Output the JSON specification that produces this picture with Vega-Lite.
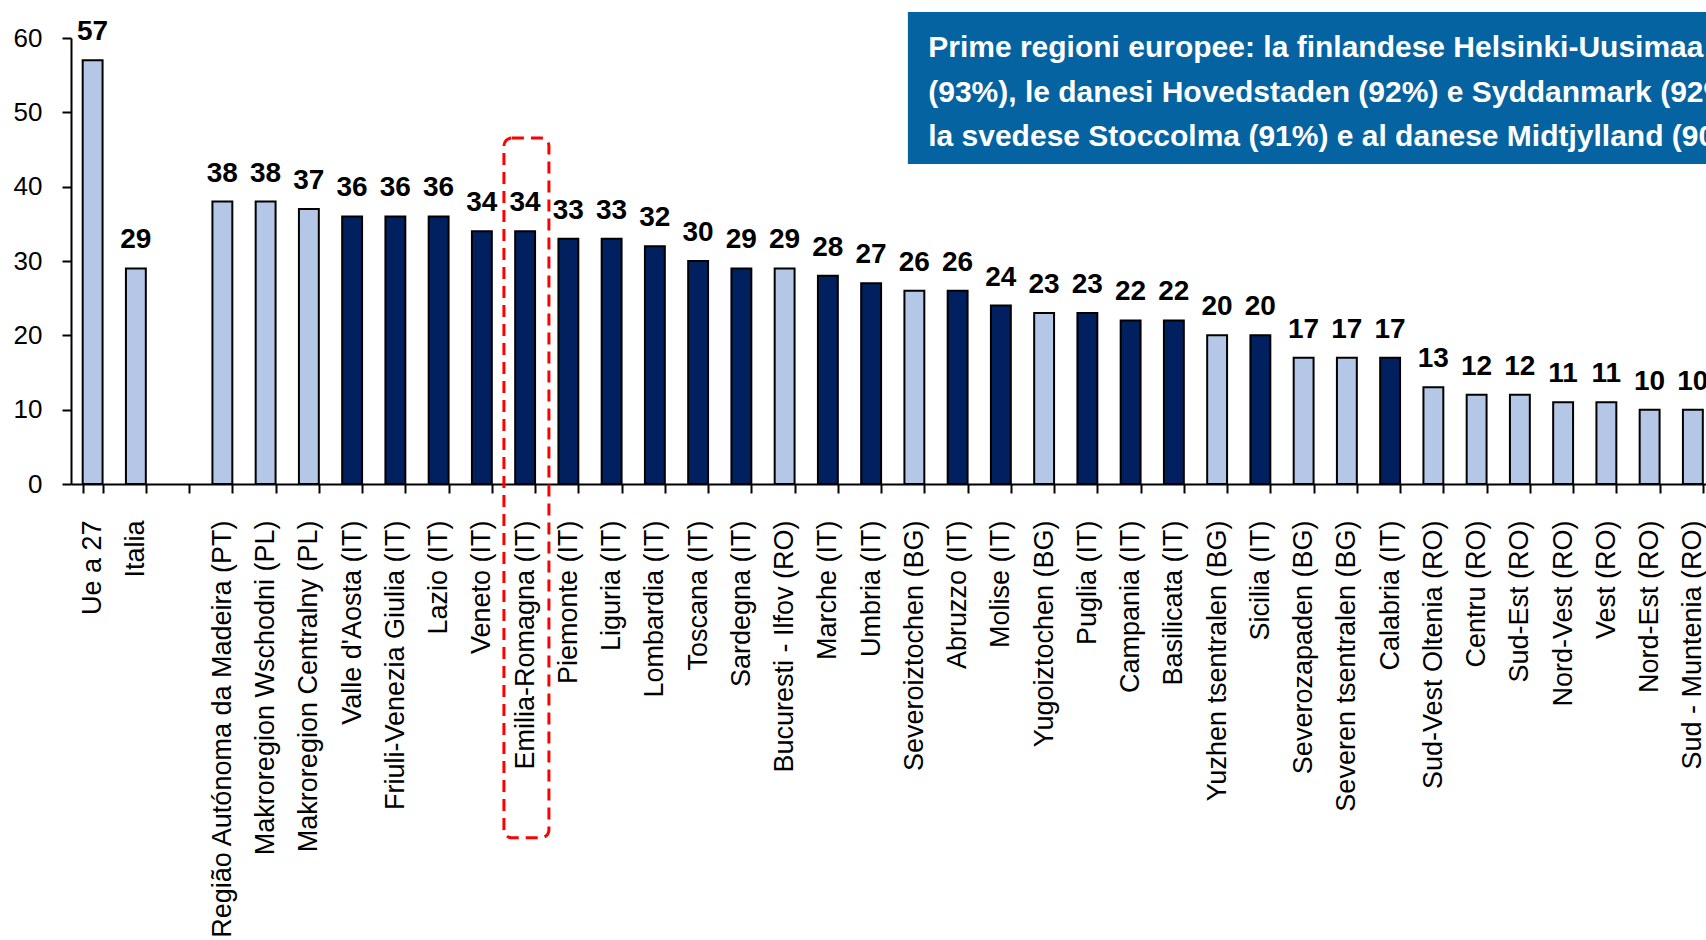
{
  "$schema": "https://vega.github.io/schema/vega-lite/v6.json",
  "width": 1635,
  "height": 446,
  "autosize": "none",
  "padding": {"left": 71, "top": 38, "right": 0, "bottom": 456},
  "background": "white",
  "config": {"view": {"stroke": null}},
  "resolve": {"scale": {"x": "independent"}},
  "layer": [
    {
      "data": {"name": "bars", "values": [
        {"cat": "Ue a 27", "v": 57, "g": "L"},
        {"cat": "Italia", "v": 29, "g": "L"},
        {"cat": "Região Autónoma da Madeira (PT)", "v": 38, "g": "L"},
        {"cat": "Makroregion Wschodni (PL)", "v": 38, "g": "L"},
        {"cat": "Makroregion Centralny (PL)", "v": 37, "g": "L"},
        {"cat": "Valle d'Aosta (IT)", "v": 36, "g": "D"},
        {"cat": "Friuli-Venezia Giulia (IT)", "v": 36, "g": "D"},
        {"cat": "Lazio (IT)", "v": 36, "g": "D"},
        {"cat": "Veneto (IT)", "v": 34, "g": "D"},
        {"cat": "Emilia-Romagna (IT)", "v": 34, "g": "D"},
        {"cat": "Piemonte (IT)", "v": 33, "g": "D"},
        {"cat": "Liguria (IT)", "v": 33, "g": "D"},
        {"cat": "Lombardia (IT)", "v": 32, "g": "D"},
        {"cat": "Toscana (IT)", "v": 30, "g": "D"},
        {"cat": "Sardegna (IT)", "v": 29, "g": "D"},
        {"cat": "Bucuresti - Ilfov (RO)", "v": 29, "g": "L"},
        {"cat": "Marche (IT)", "v": 28, "g": "D"},
        {"cat": "Umbria (IT)", "v": 27, "g": "D"},
        {"cat": "Severoiztochen (BG)", "v": 26, "g": "L"},
        {"cat": "Abruzzo (IT)", "v": 26, "g": "D"},
        {"cat": "Molise (IT)", "v": 24, "g": "D"},
        {"cat": "Yugoiztochen (BG)", "v": 23, "g": "L"},
        {"cat": "Puglia (IT)", "v": 23, "g": "D"},
        {"cat": "Campania (IT)", "v": 22, "g": "D"},
        {"cat": "Basilicata (IT)", "v": 22, "g": "D"},
        {"cat": "Yuzhen tsentralen (BG)", "v": 20, "g": "L"},
        {"cat": "Sicilia (IT)", "v": 20, "g": "D"},
        {"cat": "Severozapaden (BG)", "v": 17, "g": "L"},
        {"cat": "Severen tsentralen (BG)", "v": 17, "g": "L"},
        {"cat": "Calabria (IT)", "v": 17, "g": "D"},
        {"cat": "Sud-Vest Oltenia (RO)", "v": 13, "g": "L"},
        {"cat": "Centru (RO)", "v": 12, "g": "L"},
        {"cat": "Sud-Est (RO)", "v": 12, "g": "L"},
        {"cat": "Nord-Vest (RO)", "v": 11, "g": "L"},
        {"cat": "Vest (RO)", "v": 11, "g": "L"},
        {"cat": "Nord-Est (RO)", "v": 10, "g": "L"},
        {"cat": "Sud - Muntenia (RO)", "v": 10, "g": "L"}
      ]},
      "layer": [
        {
          "mark": {"type": "bar", "stroke": "black", "strokeWidth": 2},
          "encoding": {
            "x": {"field": "cat", "type": "nominal", "sort": null,
              "scale": {"domain": ["Ue a 27", "Italia", " ", "Região Autónoma da Madeira (PT)", "Makroregion Wschodni (PL)", "Makroregion Centralny (PL)", "Valle d'Aosta (IT)", "Friuli-Venezia Giulia (IT)", "Lazio (IT)", "Veneto (IT)", "Emilia-Romagna (IT)", "Piemonte (IT)", "Liguria (IT)", "Lombardia (IT)", "Toscana (IT)", "Sardegna (IT)", "Bucuresti - Ilfov (RO)", "Marche (IT)", "Umbria (IT)", "Severoiztochen (BG)", "Abruzzo (IT)", "Molise (IT)", "Yugoiztochen (BG)", "Puglia (IT)", "Campania (IT)", "Basilicata (IT)", "Yuzhen tsentralen (BG)", "Sicilia (IT)", "Severozapaden (BG)", "Severen tsentralen (BG)", "Calabria (IT)", "Sud-Vest Oltenia (RO)", "Centru (RO)", "Sud-Est (RO)", "Nord-Vest (RO)", "Vest (RO)", "Nord-Est (RO)", "Sud - Muntenia (RO)"],
                "range": [0, 1643.5], "paddingInner": 0.54, "paddingOuter": 0.27},
              "axis": {"title": null, "labelAngle": -90, "labelAlign": "right", "labelBaseline": "middle",
                "labelFont": "Liberation Sans, Arial, sans-serif",
                "labelFontSize": 27, "labelColor": "black", "labelPadding": 27, "labelLimit": 1000,
                "tickBand": "extent", "tickSize": 9, "tickWidth": 2, "tickColor": "black",
                "domainColor": "black", "domainWidth": 2, "labelOverlap": false, "grid": false}},
            "y": {"field": "v", "type": "quantitative",
              "scale": {"domain": [0, 60], "nice": false},
              "axis": {"title": null, "values": [0, 10, 20, 30, 40, 50, 60],
                "labelFont": "Liberation Sans, Arial, sans-serif",
                "labelFontSize": 26, "labelColor": "black", "labelPadding": 20,
                "tickSize": 9, "tickWidth": 2, "tickColor": "black",
                "domainColor": "black", "domainWidth": 2, "grid": false}},
            "color": {"field": "g", "type": "nominal",
              "scale": {"domain": ["L", "D"], "range": ["#b4c7e7", "#002060"]}, "legend": null}
          }
        },
        {
          "mark": {"type": "text", "baseline": "alphabetic", "align": "center", "dy": -20,
            "font": "Liberation Sans, Arial, sans-serif",
            "fontWeight": "bold", "fontSize": 28, "color": "black"},
          "encoding": {
            "x": {"field": "cat", "type": "nominal", "sort": null},
            "y": {"field": "v", "type": "quantitative", "title": null},
            "text": {"field": "v", "type": "quantitative"}
          }
        }
      ]
    },
    {
      "data": {"name": "annot", "values": [
        {"x": 19.35, "x2": 45, "y": 63.5, "y2": 43.05}
      ]},
      "mark": {"type": "rect", "color": "#0563a1"},
      "encoding": {
        "x": {"field": "x", "type": "quantitative", "scale": {"domain": [0, 38], "range": [0, 1643.5]}, "axis": null},
        "x2": {"field": "x2"},
        "y": {"field": "y", "type": "quantitative", "title": null},
        "y2": {"field": "y2"}
      }
    },
    {
      "data": {"name": "lines", "values": [
        {"x": 19.82, "y": 57.5, "t": "Prime regioni europee: la finlandese Helsinki-Uusimaa"},
        {"x": 19.82, "y": 51.4, "t": "(93%), le danesi Hovedstaden (92%) e Syddanmark (92%),"},
        {"x": 19.82, "y": 45.5, "t": "la svedese Stoccolma (91%) e al danese Midtjylland (90%)"}
      ]},
      "mark": {"type": "text", "align": "left", "baseline": "alphabetic",
        "font": "Liberation Sans, Arial, sans-serif",
        "fontWeight": "bold", "fontSize": 30, "color": "white"},
      "encoding": {
        "x": {"field": "x", "type": "quantitative", "scale": {"domain": [0, 38], "range": [0, 1643.5]}, "axis": null},
        "y": {"field": "y", "type": "quantitative", "title": null},
        "text": {"field": "t"}
      }
    },
    {
      "data": {"name": "box", "values": [
        {"x": 10.01, "x2": 11.05, "y": 46.55, "y2": -47.6}
      ]},
      "mark": {"type": "rect", "fill": null, "fillOpacity": 0, "stroke": "#ff0000", "strokeWidth": 3, "strokeDash": [12, 7], "cornerRadius": 8},
      "encoding": {
        "x": {"field": "x", "type": "quantitative", "scale": {"domain": [0, 38], "range": [0, 1643.5]}, "axis": null},
        "x2": {"field": "x2"},
        "y": {"field": "y", "type": "quantitative", "title": null},
        "y2": {"field": "y2"}
      }
    }
  ]
}
